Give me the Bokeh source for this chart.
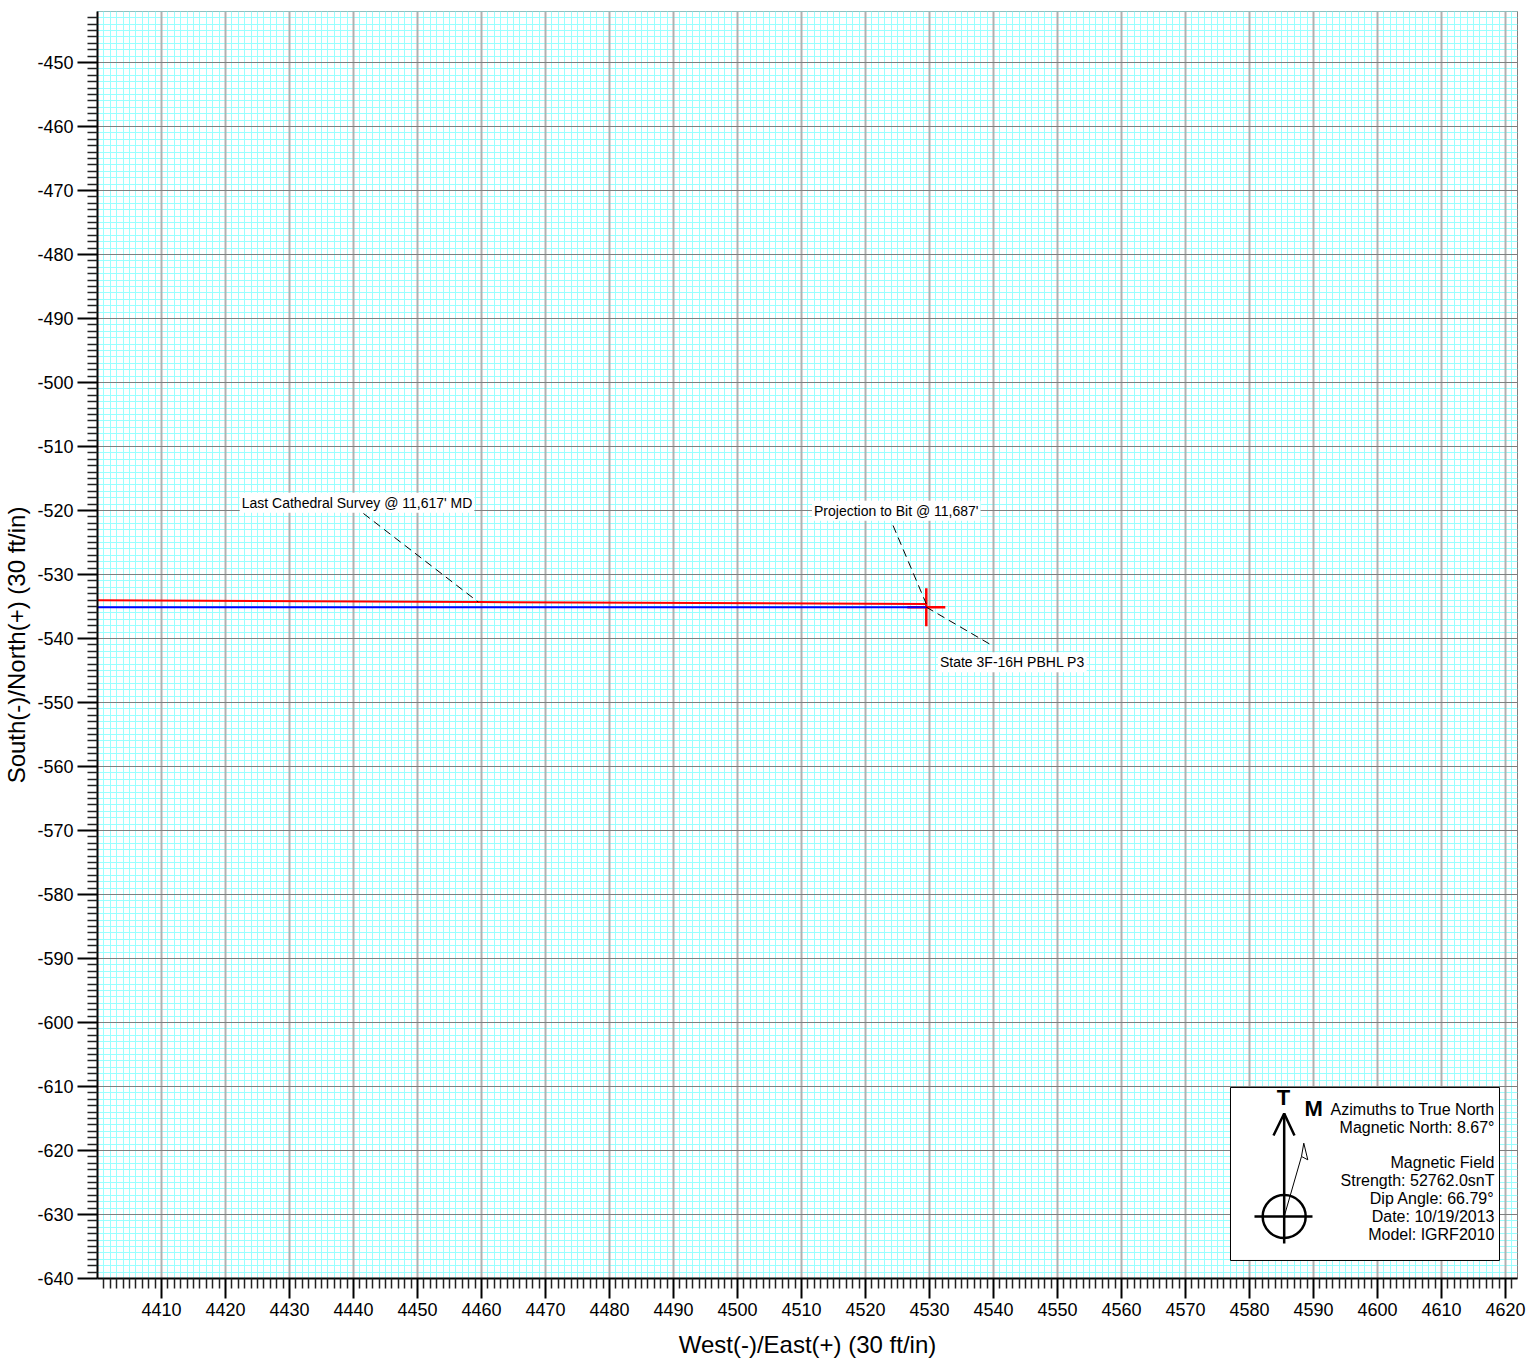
from bokeh.plotting import figure
from bokeh.models import Range1d, FixedTicker, Label, Grid
from bokeh.embed import file_html
from bokeh.resources import INLINE

# ---------------- data ----------------
# Actual (surveyed) wellbore path, West(-)/East(+) and South(-)/North(+) in ft
actual_ew = [4395.0, 4459.5, 4529.5]
actual_ns = [-534.0, -534.3, -534.6]
# Planned wellbore path
plan_ew = [4395.0, 4529.5]
plan_ns = [-535.1, -535.1]
# Target (PBHL)
target_ew = [4529.5]
target_ns = [-535.1]

x_ticks = list(range(4410, 4621, 10))
x_tick_labels = [str(t) for t in x_ticks]
x_minor = [t for t in range(4401, 4622) if t % 10 != 0]
y_ticks = list(range(-640, -449, 10))
y_tick_labels = [str(t) for t in y_ticks]
y_minor = [t for t in range(-639, -441) if t % 10 != 0]

survey_label = "Last Cathedral Survey @ 11,617' MD"
bit_label = "Projection to Bit @ 11,687'"
target_label = "State 3F-16H PBHL P3"

compass_lines = ["Azimuths to True North", "Magnetic North: 8.67\u00b0", "",
                 "Magnetic Field", "Strength: 52762.0snT", "Dip Angle: 66.79\u00b0",
                 "Date: 10/19/2013", "Model: IGRF2010"]

FONT = "Liberation Sans"
S = 6.4  # pixels per foot on screen (both axes)
TXT_UP = 6 / S  # small vertical correction for text placement
TXT_LEFT = 3.5 / S  # small horizontal correction for padded labels

p = figure(width=1528, height=1361,
           x_range=Range1d(4400, 4400 + 1420 / S),
           y_range=Range1d(-640, -640 + 1267 / S),
           min_border_left=97, min_border_right=11, min_border_top=11, min_border_bottom=83,
           output_backend="svg", toolbar_location=None)

p.background_fill_color = "white"
p.border_fill_color = "white"
p.outline_line_color = "#808080"
p.outline_line_width = 1

# axes
xt = FixedTicker(ticks=x_ticks, minor_ticks=x_minor)
yt = FixedTicker(ticks=y_ticks, minor_ticks=y_minor)
p.xaxis.ticker = xt
p.yaxis.ticker = yt
p.xaxis.major_label_overrides = dict(zip(x_ticks, x_tick_labels))
p.yaxis.major_label_overrides = dict(zip(y_ticks, y_tick_labels))
p.xaxis.axis_label = "West(-)/East(+) (30 ft/in)"
p.yaxis.axis_label = "South(-)/North(+) (30 ft/in)"
for ax in (p.xaxis, p.yaxis):
    ax.axis_line_color = "black"
    ax.axis_line_width = 2
    ax.major_tick_out = 20
    ax.major_tick_in = 0
    ax.minor_tick_out = 10
    ax.minor_tick_in = 0
    ax.major_tick_line_color = "black"
    ax.major_tick_line_width = 2
    ax.minor_tick_line_color = "#222222"
    ax.minor_tick_line_width = 1.5
    ax.major_label_text_font = FONT
    ax.major_label_text_font_size = "18px"
    ax.major_label_text_color = "black"
    ax.axis_label_text_font = FONT
    ax.axis_label_text_font_size = "24px"
    ax.axis_label_text_font_style = "normal"
    ax.axis_label_text_color = "black"
p.yaxis.major_label_standoff = 4
p.yaxis.axis_label_standoff = 4
p.xaxis.major_label_standoff = 4
p.xaxis.axis_label_standoff = 12

# grids: minor (cyan) first for both directions, then the major lines on top
for g in (p.xgrid, p.ygrid):
    g.grid_line_color = None
    g.minor_grid_line_color = "#99ffff"
    g.minor_grid_line_width = 1
p.add_layout(Grid(dimension=0, ticker=xt, grid_line_color="#b0b0b0", grid_line_width=2,
                  minor_grid_line_color=None))
p.add_layout(Grid(dimension=1, ticker=yt, grid_line_color="#7f7f7f", grid_line_width=1.2,
                  minor_grid_line_color=None))

# ---------------- wellbore ----------------
p.scatter(target_ew, target_ns, marker="cross", size=38, line_color="red", line_width=2.5)
p.line(plan_ew, plan_ns, line_color="#0000ff", line_width=2)
p.line(actual_ew, actual_ns, line_color="#ff0000", line_width=2)

# leader lines (dashed)
lead_xs = [[4441.56, actual_ew[1]], [4524.3, actual_ew[2]], [target_ew[0], 4539.53]]
lead_ys = [[-520.47, actual_ns[1]], [-522.34, actual_ns[2]], [target_ns[0], -540.94]]
p.multi_line(lead_xs, lead_ys, line_color="black", line_width=1, line_dash="8 5")

for txt, lx, ly in [(survey_label, 4422.77, -519.73),
                    (bit_label, 4512.19, -520.97),
                    (target_label, 4531.87, -544.64)]:
    p.add_layout(Label(x=lx - TXT_LEFT, y=ly + TXT_UP, text=txt, text_font=FONT,
                       text_font_size="14px", text_color="black", text_align="left",
                       text_baseline="alphabetic", background_fill_color="white", padding=2))

# ---------------- compass / magnetic info box ----------------
cx, cy = 4585.42, -630.31  # centre of the compass circle


def c(dx, dy):
    return cx + dx / S, cy + dy / S


bl, bb = c(-53.7, -44)
br, bt = c(215.3, 129)
p.quad(left=[bl], right=[br], bottom=[bb], top=[bt], fill_color="white",
       line_color="black", line_width=1)

sx0, sy0 = c(0, -27)
sx1, sy1 = c(0, 103)
p.line([sx0, sx1], [sy0, sy1], line_color="black", line_width=2.5)
a1 = c(-10.7, 81)
a2 = c(0, 103)
a3 = c(10.3, 81)
p.line([a1[0], a2[0], a3[0]], [a1[1], a2[1], a3[1]], line_color="black", line_width=2.5)
p.scatter([cx], [cy], marker="circle", size=43, fill_color=None, line_color="black", line_width=2.5)
h0 = c(-29.7, 0)
h1 = c(28.3, 0)
p.line([h0[0], h1[0]], [h0[1], h1[1]], line_color="black", line_width=2.5)
m1 = c(17.3, 60)
p.line([cx, m1[0]], [cy, m1[1]], line_color="black", line_width=1)
t1, t2, t3 = c(17.3, 60), c(19.6, 73.3), c(23.6, 56.7)
p.patch([t1[0], t2[0], t3[0]], [t1[1], t2[1], t3[1]], fill_color="white",
        line_color="black", line_width=1)

tx, ty = c(-0.7, 119)
p.add_layout(Label(x=tx, y=ty, text="T", text_font=FONT, text_font_size="22px",
                   text_font_style="bold", text_color="black",
                   text_align="center", text_baseline="alphabetic"))
mx, my = c(20.3, 107.5)
p.add_layout(Label(x=mx, y=my, text="M", text_font=FONT, text_font_size="22px",
                   text_font_style="bold", text_color="black",
                   text_align="left", text_baseline="alphabetic"))

line_dy = [107, 88.7, 71, 53.7, 36, 18, 0.3, -18]
for txt, dy in zip(compass_lines, line_dy):
    if not txt:
        continue
    lx, ly = c(210.3, dy)
    p.add_layout(Label(x=lx, y=ly, text=txt, text_font=FONT, text_font_size="16px",
                       text_align="right", text_baseline="alphabetic", text_color="black"))

open("out.html", "w").write(file_html(p, INLINE))
